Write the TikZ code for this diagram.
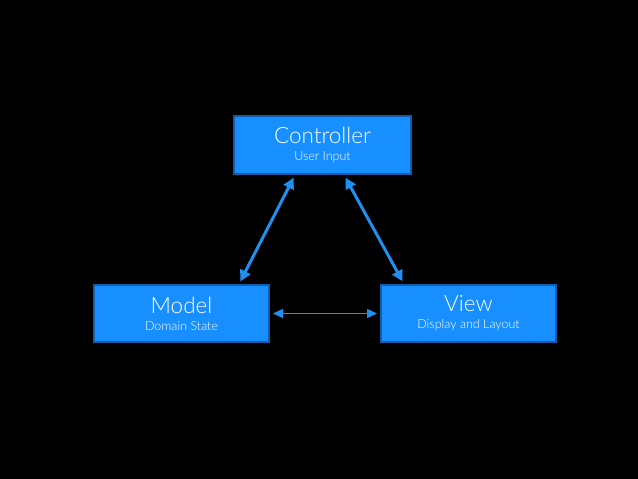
\documentclass[tikz,border=0pt]{standalone}
\usepackage{fontspec}
\setmainfont{Lato Light}
\usetikzlibrary{arrows.meta}
\definecolor{boxblue}{RGB}{24,143,255}
\definecolor{edgeblue}{RGB}{18,92,170}
\definecolor{arrowblue}{RGB}{30,145,240}

\begin{document}
\begin{tikzpicture}[x=1pt,y=-1pt]
    \tikzset{
      mvcbox/.style={draw=edgeblue, line width=2pt, fill=boxblue, text=white,
        minimum width=175pt, minimum height=57pt, inner sep=0pt, align=center},
      bigarrow/.style={arrowblue, line width=3pt, {Triangle[length=11pt,width=11pt]}-{Triangle[length=11pt,width=11pt]}},
      thinarrow/.style={arrowblue, line width=1.3pt, {Triangle[length=10pt,width=9pt]}-{Triangle[length=10pt,width=9pt]}}
    }
    \fill[black] (0,0) rectangle (638,479);

    \node[mvcbox, minimum width=177pt, minimum height=58pt] (ctrl) at (322.5,145)
      {{\fontsize{22.5}{24}\selectfont Controller}\\[5pt]{\fontsize{12.5}{13}\selectfont User Input}};
    \node[mvcbox] (model) at (181.5,313.5)
      {{\fontsize{22.5}{24}\selectfont Model}\\[5pt]{\fontsize{12.5}{13}\selectfont Domain State}};
    \node[mvcbox] (view) at (468.5,313.5)
      {{\fontsize{22.5}{24}\selectfont View}\\[5pt]{\fontsize{12.5}{13}\selectfont Display and Layout}};

    \draw[bigarrow, shorten <=3pt, shorten >=3pt] ([xshift=-27.5pt]ctrl.south) -- ([xshift=57.5pt]model.north);
    \draw[bigarrow, shorten <=3pt, shorten >=3pt] ([xshift=21.5pt]ctrl.south) -- ([xshift=-64.5pt]view.north);
    \draw[thinarrow, shorten <=3pt, shorten >=3pt] (model.east) -- (view.west);
\end{tikzpicture}
\end{document}
